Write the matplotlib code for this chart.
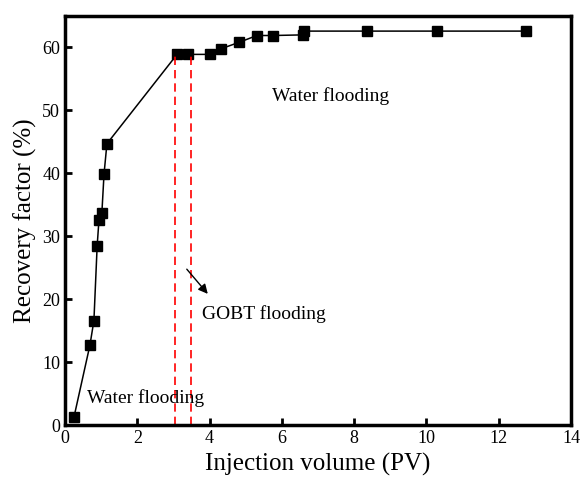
# Recovery factor vs injection volume
import numpy as np
import matplotlib.pyplot as plt

plt.rcParams['font.family'] = ['Liberation Serif', 'DejaVu Serif']

# 数据
pv = [0.25, 0.69, 0.80, 0.89, 0.94, 1.02, 1.08, 1.16, 3.10, 3.40, 4.01,
      4.32, 4.81, 5.31, 5.76, 6.59, 6.60, 8.36, 10.29, 12.76]
rf = [1.3, 12.7, 16.6, 28.5, 32.6, 33.7, 39.9, 44.7, 58.9, 58.9, 58.9,
      59.8, 60.8, 61.9, 61.9, 62.0, 62.6, 62.6, 62.6, 62.6]
gobt_start, gobt_end = 3.04, 3.49
gobt_top = 58.9

fig = plt.figure(figsize=(5.81, 4.78), dpi=100)
ax = fig.add_axes([65/581, 53/478, 506/581, 409/478])

ax.plot(pv, rf, color='black', lw=1.1, marker='s', ms=7.5, mfc='black', mec='black')
for xv in (gobt_start, gobt_end):
    ax.plot([xv, xv], [0, gobt_top], color='red', ls=(0, (5, 3)), lw=1.2)

ax.annotate('', xy=(4.0, 20.5), xytext=(3.32, 25.1),
            arrowprops=dict(arrowstyle='-|>', color='black', lw=1, mutation_scale=14))
ax.text(0.6, 4.3, 'Water flooding', fontsize=14, va='center')
ax.text(3.8, 17.7, 'GOBT flooding', fontsize=14, va='center')
ax.text(5.73, 52.2, 'Water flooding', fontsize=14, va='center')

ax.set_xlim(0, 14)
ax.set_ylim(0, 65)
ax.set_xticks(np.arange(0, 15, 2))
ax.set_yticks(np.arange(0, 61, 10))
ax.tick_params(direction='in', width=2, length=5, labelsize=13)
for s in ax.spines.values():
    s.set_linewidth(2.5)
ax.set_xlabel('Injection volume (PV)', fontsize=18)
ax.set_ylabel('Recovery factor (%)', fontsize=18)

fig.savefig('out.png', dpi=100)
